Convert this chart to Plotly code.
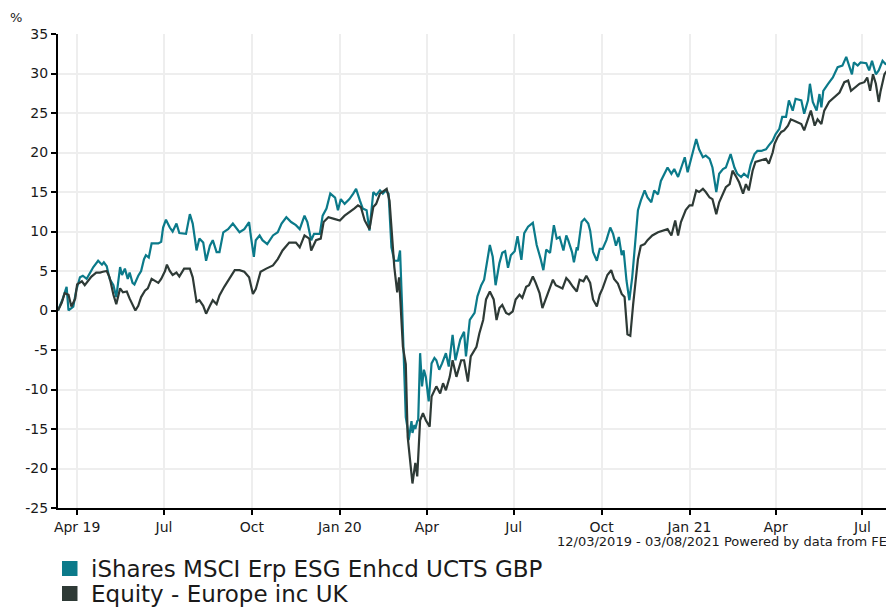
import plotly.graph_objects as go

series_names = ["iShares MSCI Erp ESG Enhcd UCTS GBP", "Equity - Europe inc UK"]
series_colors = ["#0b7a8a", "#2e3a36"]

ishares_dates = [
"2019-03-12","2019-03-17","2019-03-21","2019-03-23","2019-03-28","2019-03-31","2019-04-04","2019-04-07","2019-04-11","2019-04-14",
"2019-04-18","2019-04-23","2019-04-27","2019-04-29","2019-05-02","2019-05-05","2019-05-09","2019-05-12","2019-05-16","2019-05-18",
"2019-05-21","2019-05-24","2019-05-26","2019-05-29","2019-05-31","2019-06-04","2019-06-07","2019-06-10","2019-06-12","2019-06-15",
"2019-06-18","2019-06-21","2019-06-25","2019-06-28","2019-06-30","2019-07-03","2019-07-07","2019-07-10","2019-07-14","2019-07-17",
"2019-07-24","2019-07-28","2019-07-31","2019-08-04","2019-08-07","2019-08-11","2019-08-14","2019-08-18","2019-08-21","2019-08-25",
"2019-08-28","2019-09-01","2019-09-06","2019-09-11","2019-09-15","2019-09-18","2019-09-23","2019-09-28","2019-09-30","2019-10-03",
"2019-10-05","2019-10-09","2019-10-12","2019-10-17","2019-10-23","2019-10-28","2019-11-01","2019-11-06","2019-11-11","2019-11-16",
"2019-11-20","2019-11-25","2019-11-28","2019-12-02","2019-12-05","2019-12-11","2019-12-14","2019-12-18","2019-12-22","2019-12-27",
"2019-12-30","2020-01-02","2020-01-06","2020-01-11","2020-01-15","2020-01-18","2020-01-22","2020-01-25","2020-01-29","2020-02-01",
"2020-02-05","2020-02-08","2020-02-12","2020-02-15","2020-02-18","2020-02-21","2020-02-24","2020-02-27","2020-03-02","2020-03-04",
"2020-03-06","2020-03-08","2020-03-10","2020-03-12","2020-03-13","2020-03-16","2020-03-17","2020-03-19","2020-03-20","2020-03-22",
"2020-03-23","2020-03-25","2020-03-27","2020-03-29","2020-03-31","2020-04-02","2020-04-03","2020-04-06","2020-04-09","2020-04-11",
"2020-04-14","2020-04-17","2020-04-21","2020-04-24","2020-04-28","2020-05-01","2020-05-06","2020-05-10","2020-05-12","2020-05-16",
"2020-05-21","2020-05-24","2020-05-28","2020-05-31","2020-06-04","2020-06-06","2020-06-09","2020-06-12","2020-06-16","2020-06-19",
"2020-06-22","2020-06-25","2020-06-28","2020-07-02","2020-07-05","2020-07-09","2020-07-12","2020-07-16","2020-07-21","2020-07-25",
"2020-07-29","2020-08-01","2020-08-04","2020-08-08","2020-08-12","2020-08-15","2020-08-18","2020-08-22","2020-08-25","2020-08-27",
"2020-08-31","2020-09-02","2020-09-05","2020-09-06","2020-09-10","2020-09-13","2020-09-17","2020-09-19","2020-09-22","2020-09-26",
"2020-09-29","2020-10-02","2020-10-06","2020-10-10","2020-10-13","2020-10-16","2020-10-19","2020-10-22","2020-10-24","2020-10-27",
"2020-10-30","2020-11-02","2020-11-05","2020-11-08","2020-11-11","2020-11-15","2020-11-18","2020-11-22","2020-11-25","2020-11-29",
"2020-12-02","2020-12-06","2020-12-09","2020-12-13","2020-12-16","2020-12-20","2020-12-23","2020-12-27","2020-12-30","2021-01-03",
"2021-01-06","2021-01-08","2021-01-11","2021-01-15","2021-01-18","2021-01-22","2021-01-25","2021-01-29","2021-02-01","2021-02-05",
"2021-02-08","2021-02-13","2021-02-17","2021-02-20","2021-02-24","2021-02-27","2021-03-03","2021-03-06","2021-03-10","2021-03-13",
"2021-03-17","2021-03-22","2021-03-25","2021-03-29","2021-04-01","2021-04-05","2021-04-08","2021-04-12","2021-04-15","2021-04-19",
"2021-04-22","2021-04-28","2021-05-01","2021-05-05","2021-05-07","2021-05-10","2021-05-14","2021-05-17","2021-05-19","2021-05-21",
"2021-05-26","2021-05-31","2021-06-05","2021-06-10","2021-06-14","2021-06-17","2021-06-20","2021-06-22","2021-06-26","2021-06-29",
"2021-07-05","2021-07-08","2021-07-11","2021-07-15","2021-07-18","2021-07-22","2021-07-25","2021-07-29","2021-08-03"]
ishares_values = [
0.0,1.5,3.0,0.0,0.5,2.5,4.2,4.4,4.0,4.6,
5.5,6.3,5.8,6.1,5.6,4.0,3.2,1.7,5.5,4.5,
5.3,4.0,4.8,3.5,3.3,4.4,5.0,6.5,7.0,6.7,
8.5,8.5,8.5,8.7,10.5,11.5,10.5,10.0,11.0,9.8,
9.7,12.2,11.0,7.6,9.1,8.6,6.3,8.2,8.9,7.4,
7.4,9.9,10.3,11.0,10.3,9.9,10.3,11.2,9.3,6.8,
8.9,9.5,8.9,8.4,9.5,9.9,11.0,11.8,11.2,10.8,
10.3,12.0,11.2,8.9,9.7,9.7,12.0,12.9,14.8,14.3,
12.7,14.1,13.5,14.1,14.8,15.4,13.9,12.9,12.7,10.1,
15.0,14.6,15.2,14.8,15.2,14.8,8.0,6.3,6.3,7.6,
1.0,-5.5,-13.5,-15.0,-16.4,-14.0,-15.5,-14.5,-15.0,-14.0,
-13.9,-5.4,-9.6,-7.5,-8.4,-10.5,-11.5,-6.7,-6.0,-6.3,
-7.5,-6.7,-5.4,-7.1,-3.1,-6.3,-3.7,-2.7,-5.8,-1.2,
-0.3,1.8,3.2,3.9,7.0,8.3,6.8,3.2,6.0,7.3,
7.5,5.4,7.0,7.5,9.4,6.4,9.8,10.6,11.1,8.3,
6.6,5.1,7.7,7.3,10.8,9.1,9.3,7.6,9.5,8.9,
7.4,6.1,8.0,7.6,11.2,11.6,11.0,10.1,7.4,6.3,
7.8,7.8,8.9,10.5,9.7,8.2,9.3,7.0,7.6,3.8,
1.3,4.2,8.4,12.7,13.9,15.2,14.3,13.7,15.2,14.7,
16.4,17.3,18.1,17.3,17.9,16.9,18.1,19.4,17.5,19.4,
20.9,21.7,20.4,19.4,19.6,19.2,18.1,15.0,17.3,17.9,
18.1,19.8,18.1,17.3,16.9,17.3,16.9,18.5,19.8,20.2,
20.2,20.4,20.9,21.5,22.3,23.0,24.5,24.5,26.6,25.3,
26.8,26.6,24.9,26.6,28.7,26.4,25.3,27.4,25.7,27.8,
28.7,29.5,30.8,31.0,32.1,31.0,29.9,31.4,31.0,31.4,
31.3,30.4,31.6,29.9,30.4,31.6,31.2,31.4,32.5]

sector_dates = [
"2019-03-12","2019-03-16","2019-03-19","2019-03-23","2019-03-26","2019-03-30","2019-04-01","2019-04-06","2019-04-09","2019-04-13",
"2019-04-16","2019-04-21","2019-04-25","2019-04-28","2019-05-02","2019-05-05","2019-05-09","2019-05-12","2019-05-16","2019-05-19",
"2019-05-23","2019-05-26","2019-05-30","2019-06-01","2019-06-04","2019-06-07","2019-06-11","2019-06-14","2019-06-18","2019-06-21",
"2019-06-25","2019-06-28","2019-07-02","2019-07-04","2019-07-07","2019-07-10","2019-07-14","2019-07-17","2019-07-22","2019-07-28",
"2019-07-31","2019-08-04","2019-08-07","2019-08-11","2019-08-14","2019-08-18","2019-08-21","2019-08-25","2019-08-28","2019-09-02",
"2019-09-08","2019-09-13","2019-09-18","2019-09-23","2019-09-28","2019-10-02","2019-10-05","2019-10-10","2019-10-16","2019-10-23",
"2019-10-28","2019-11-02","2019-11-09","2019-11-16","2019-11-20","2019-11-25","2019-11-30","2019-12-02","2019-12-07","2019-12-12",
"2019-12-15","2019-12-20","2019-12-26","2020-01-01","2020-01-06","2020-01-11","2020-01-16","2020-01-20","2020-01-23","2020-01-27",
"2020-02-01","2020-02-05","2020-02-08","2020-02-12","2020-02-17","2020-02-19","2020-02-22","2020-02-25","2020-02-27","2020-03-01",
"2020-03-03","2020-03-07","2020-03-10","2020-03-12","2020-03-16","2020-03-17","2020-03-20","2020-03-22","2020-03-25","2020-03-28",
"2020-03-31","2020-04-04","2020-04-06","2020-04-11","2020-04-15","2020-04-18","2020-04-21","2020-04-25","2020-04-28","2020-05-02",
"2020-05-07","2020-05-10","2020-05-14","2020-05-17","2020-05-23","2020-05-26","2020-05-30","2020-06-02","2020-06-06","2020-06-10",
"2020-06-13","2020-06-16","2020-06-19","2020-06-23","2020-06-26","2020-06-30","2020-07-03","2020-07-07","2020-07-10","2020-07-14",
"2020-07-17","2020-07-21","2020-07-24","2020-07-28","2020-07-31","2020-08-04","2020-08-07","2020-08-11","2020-08-14","2020-08-18",
"2020-08-21","2020-08-25","2020-08-28","2020-09-01","2020-09-05","2020-09-08","2020-09-12","2020-09-15","2020-09-19","2020-09-22",
"2020-09-26","2020-09-29","2020-10-02","2020-10-07","2020-10-11","2020-10-14","2020-10-18","2020-10-22","2020-10-25","2020-10-28",
"2020-10-31","2020-11-03","2020-11-05","2020-11-08","2020-11-11","2020-11-15","2020-11-18","2020-11-23","2020-11-29","2020-12-04",
"2020-12-09","2020-12-13","2020-12-17","2020-12-20","2020-12-23","2020-12-28","2021-01-01","2021-01-04","2021-01-08","2021-01-11",
"2021-01-15","2021-01-18","2021-01-22","2021-01-25","2021-01-29","2021-02-01","2021-02-05","2021-02-08","2021-02-12","2021-02-15",
"2021-02-19","2021-02-22","2021-02-26","2021-03-01","2021-03-04","2021-03-08","2021-03-11","2021-03-17","2021-03-22","2021-03-25",
"2021-03-29","2021-03-31","2021-04-03","2021-04-07","2021-04-10","2021-04-14","2021-04-17","2021-04-21","2021-04-24","2021-04-28",
"2021-05-01","2021-05-05","2021-05-08","2021-05-12","2021-05-15","2021-05-19","2021-05-22","2021-05-27","2021-06-02","2021-06-07",
"2021-06-12","2021-06-16","2021-06-19","2021-06-23","2021-06-28","2021-07-03","2021-07-06","2021-07-09","2021-07-12","2021-07-15",
"2021-07-18","2021-07-20","2021-07-24","2021-07-27","2021-07-31","2021-08-03"]
sector_values = [
0.0,1.0,2.2,2.0,0.5,1.5,3.3,3.7,3.2,3.8,
4.3,4.8,4.8,4.9,5.0,4.2,2.0,0.8,2.8,2.3,
2.4,1.5,0.6,0.0,0.6,1.7,2.5,2.8,4.0,3.8,
3.5,4.0,5.0,5.8,5.0,4.5,4.8,4.3,5.3,5.3,
4.2,1.1,1.3,0.6,-0.4,0.6,1.3,0.8,1.9,3.0,
4.2,5.1,5.1,4.9,4.2,2.1,2.7,4.9,5.3,5.7,
6.5,7.6,8.6,8.6,8.0,9.5,9.1,7.6,8.9,9.1,
11.2,11.8,11.6,11.4,12.0,12.4,12.9,13.3,13.1,11.4,
10.3,13.1,13.5,14.8,15.2,15.4,13.9,9.3,5.5,2.3,
4.2,-4.6,-6.8,-16.0,-20.4,-21.9,-19.3,-21.0,-13.9,-13.0,
-13.9,-14.7,-10.9,-9.6,-10.5,-9.2,-10.1,-8.4,-6.3,-8.4,
-6.3,-6.3,-9.0,-5.8,-4.6,-2.9,-1.2,1.4,2.4,1.4,
-1.2,0.3,0.7,-0.3,-0.5,-0.1,1.4,2.0,1.6,3.0,
3.2,4.3,3.5,2.2,0.3,1.6,2.4,3.9,3.2,3.0,
2.8,4.1,3.7,3.0,2.4,3.9,3.7,4.4,3.5,1.4,
0.5,2.0,2.8,4.5,5.1,4.0,3.4,2.1,1.7,-3.0,
-3.2,0.8,3.2,6.5,8.2,8.4,8.9,9.5,9.9,10.1,
10.3,9.5,11.4,9.5,11.2,12.7,13.3,13.3,15.2,15.0,
15.4,15.0,14.3,14.1,12.2,13.7,14.8,15.6,16.0,17.7,
16.9,16.2,14.8,16.0,15.2,17.7,18.8,19.0,19.2,18.6,
20.0,21.1,21.9,22.6,22.8,23.4,24.2,24.0,23.8,23.6,
22.8,24.2,25.3,23.4,24.2,23.6,25.3,26.4,27.0,27.6,
28.9,29.1,27.8,28.2,28.7,28.9,29.5,27.8,29.9,28.7,
26.4,27.8,29.9,30.4,31.0,30.8]

tick_dates = ["2019-04-01","2019-07-01","2019-10-01","2020-01-01","2020-04-01",
              "2020-07-01","2020-10-01","2021-01-01","2021-04-01","2021-07-01"]
tick_labels = ["Apr 19","Jul","Oct","Jan 20","Apr","Jul","Oct","Jan 21","Apr","Jul"]
y_ticks = [-25,-20,-15,-10,-5,0,5,10,15,20,25,30,35]
y_tick_labels = ["-25","-20","-15","-10","-5","0","5","10","15","20","25","30","35"]
date_range = ["2019-03-12","2021-08-03"]
footer_text = "12/03/2019 - 03/08/2021 Powered by data from FE"

# page body has an 8px default margin, so the figure is 8px smaller each way
W, H = 886, 600
PL, PT, PW, PH = 50, 26, 836, 474  # plot area in figure pixels
FONT = "DejaVu Sans"
TXT = "#1a1a1a"

def px_x(x):  # figure pixel -> paper x
    return (x - PL) / PW

def px_y(y):  # figure pixel -> paper y
    return (PT + PH - y) / PH

fig = go.Figure()
for color, xs, ys in [(series_colors[0], ishares_dates, ishares_values),
                      (series_colors[1], sector_dates, sector_values)]:
    fig.add_trace(go.Scatter(x=xs, y=ys, mode="lines", line=dict(color=color, width=2.2),
                             showlegend=False, hoverinfo="skip"))

shapes = []
annotations = []
legend_rows_y = [560.5, 585.5]
for name, color, cy in zip(series_names, series_colors, legend_rows_y):
    shapes.append(dict(type="rect", xref="paper", yref="paper",
                       x0=px_x(54), x1=px_x(69.5), y0=px_y(cy + 7.5), y1=px_y(cy - 7.5),
                       fillcolor=color, line=dict(width=0)))
    annotations.append(dict(text=name, xref="paper", yref="paper",
                            x=px_x(81), y=px_y(cy), xanchor="left", yanchor="middle",
                            showarrow=False, font=dict(family=FONT, size=23, color=TXT)))

annotations.append(dict(text="%", xref="paper", yref="paper", x=px_x(8), y=px_y(10),
                        xanchor="center", yanchor="middle", showarrow=False,
                        font=dict(family=FONT, size=13, color=TXT)))
annotations.append(dict(text=footer_text, xref="paper", yref="paper", x=px_x(881), y=px_y(533),
                        xanchor="right", yanchor="middle", showarrow=False,
                        font=dict(family=FONT, size=13, color=TXT)))

fig.update_layout(
    width=W, height=H,
    margin=dict(l=PL, r=W - PL - PW, t=PT, b=H - PT - PH, autoexpand=False),
    paper_bgcolor="white", plot_bgcolor="white",
    font=dict(family=FONT, size=14, color=TXT),
    showlegend=False,
    xaxis=dict(type="date", range=date_range, tickvals=tick_dates, ticktext=tick_labels,
               showgrid=True, gridcolor="#eeeeee", gridwidth=2,
               showline=True, linecolor="black", linewidth=2,
               ticks="outside", ticklen=5, tickwidth=2, tickcolor="black",
               tickfont=dict(family=FONT, size=14, color=TXT), zeroline=False),
    yaxis=dict(range=[-25, 35], tickvals=y_ticks, ticktext=y_tick_labels,
               showgrid=True, gridcolor="#eeeeee", gridwidth=2,
               showline=True, linecolor="black", linewidth=2,
               ticks="outside", ticklen=5, tickwidth=2, tickcolor="black",
               tickfont=dict(family=FONT, size=14, color=TXT), zeroline=False),
    shapes=shapes,
    annotations=annotations,
)
fig.write_html("out.html")
